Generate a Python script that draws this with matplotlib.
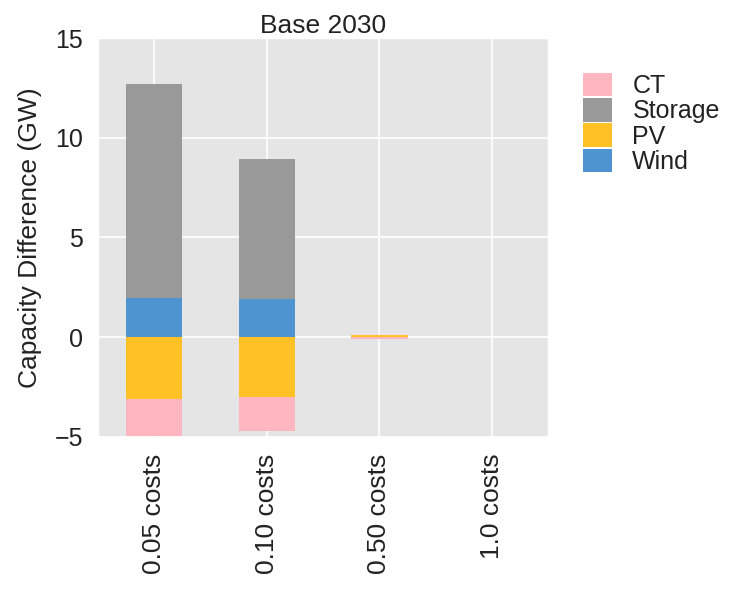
import pandas as pd
import matplotlib.pyplot as plt

plt.style.use('ggplot')
plt.rcParams['font.family'] = ['Liberation Sans', 'DejaVu Sans']

# data (GW)
scenarios = ['0.05 costs', '0.10 costs', '0.50 costs', '1.0 costs']
wind = [1.95, 1.9, 0.0, 0.0]
pv = [-3.1, -3.0, 0.12, 0.0]
storage = [10.75, 7.05, 0.0, 0.0]
ct = [-1.85, -1.7, -0.08, 0.0]

colors = {'Wind': '#4d94d0', 'PV': '#ffc125', 'Storage': '#999999', 'CT': '#ffb6c1'}

df = pd.DataFrame({'Wind': wind, 'PV': pv, 'Storage': storage, 'CT': ct}, index=scenarios)

fig = plt.figure(figsize=(7.32, 6.05), dpi=100)
fig.patch.set_facecolor('white')
ax = fig.add_axes([0.134, 0.278, 0.615, 0.659])
df.plot(kind='bar', stacked=True, ax=ax, width=0.5,
        color=[colors[c] for c in df.columns], edgecolor='none')

ax.set_facecolor('#e5e5e5')
ax.grid(True, color='white', linewidth=1.2)
ax.set_axisbelow(True)
ax.set_ylim(-5, 15)
ax.set_yticks([-5, 0, 5, 10, 15])
ax.tick_params(axis='both', length=0, labelcolor='#222222')
ax.tick_params(axis='y', labelsize=18, pad=11)
ax.tick_params(axis='x', labelsize=19, pad=12)
plt.setp(ax.get_xticklabels(), rotation=90)
ax.set_ylabel('Capacity Difference (GW)', fontsize=19, color='#222222', labelpad=9)
ax.set_xlabel('')
ax.set_title('Base 2030', fontsize=19, color='#222222', pad=3)

handles, labels = ax.get_legend_handles_labels()
leg = ax.legend(handles[::-1], labels[::-1], loc='upper left', bbox_to_anchor=(1.078, 0.912),
                frameon=False, fontsize=18, handlelength=1.16, handleheight=1.05,
                labelspacing=0.0, handletextpad=0.8, borderaxespad=0, borderpad=0)
for t in leg.get_texts():
    t.set_color('#222222')

fig.savefig('out.png', dpi=100, facecolor='white')
